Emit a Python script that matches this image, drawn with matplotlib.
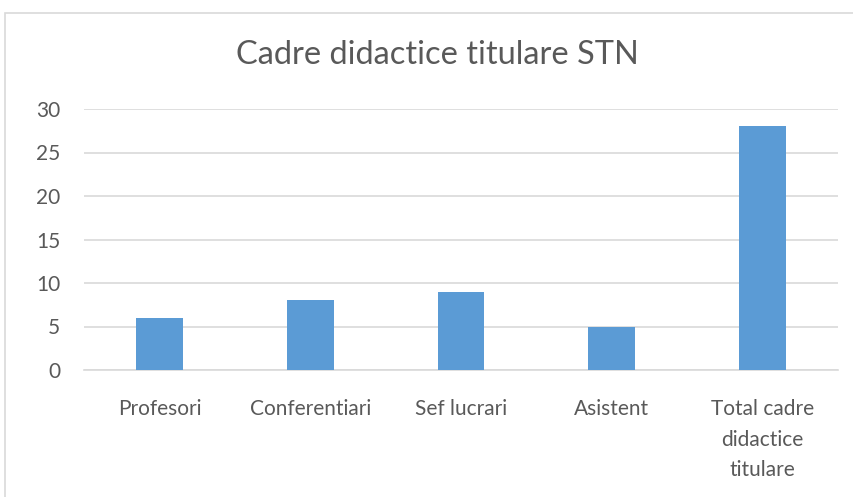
import matplotlib as mpl
mpl.use('Agg')
import matplotlib.pyplot as plt
from matplotlib.patches import Rectangle

categories = ["Profesori", "Conferentiari", "Sef lucrari", "Asistent",
              "Total cadre\ndidactice\ntitulare"]
values = [6, 8, 9, 5, 28]
yticks = [0, 5, 10, 15, 20, 25, 30]

TEXT = '#595959'
GRID = '#d9d9d9'
BAR = '#5b9bd5'

plt.rcParams['font.family'] = ['Lato', 'DejaVu Sans']

fig = plt.figure(figsize=(8.54, 4.97), dpi=100)

# outer chart frame (cut at right/bottom like the screenshot)
fig.patches.append(Rectangle((5 / 854, -0.01), 1.0, 1 - 13 / 497 + 0.01,
                             transform=fig.transFigure, fill=False,
                             edgecolor='#d9d9d9', linewidth=1.2))

ax = fig.add_axes([84 / 854, 1 - 370 / 497, (838 - 84) / 854, (370 - 109) / 497])
x = range(len(categories))
ax.bar(x, values, width=0.31, color=BAR, zorder=3)

ax.set_xlim(-0.5, len(categories) - 0.5)
ax.set_ylim(0, 30)
ax.set_yticks(yticks)
ax.yaxis.grid(True, color=GRID, linewidth=1.2, zorder=0)
ax.set_xticks(list(x))
ax.set_xticklabels(categories, linespacing=1.65)
ax.tick_params(axis='both', length=0, labelsize=15, colors=TEXT)
ax.tick_params(axis='x', pad=21)
ax.tick_params(axis='y', pad=17)
for s in ['top', 'right', 'left']:
    ax.spines[s].set_visible(False)
ax.spines['bottom'].set_color(GRID)
ax.spines['bottom'].set_linewidth(1.2)

fig.text(437 / 854, 1 - 55 / 497, "Cadre didactice titulare STN",
         ha='center', va='center', fontsize=23.5, color=TEXT)

plt.savefig("out.png", dpi=100)
